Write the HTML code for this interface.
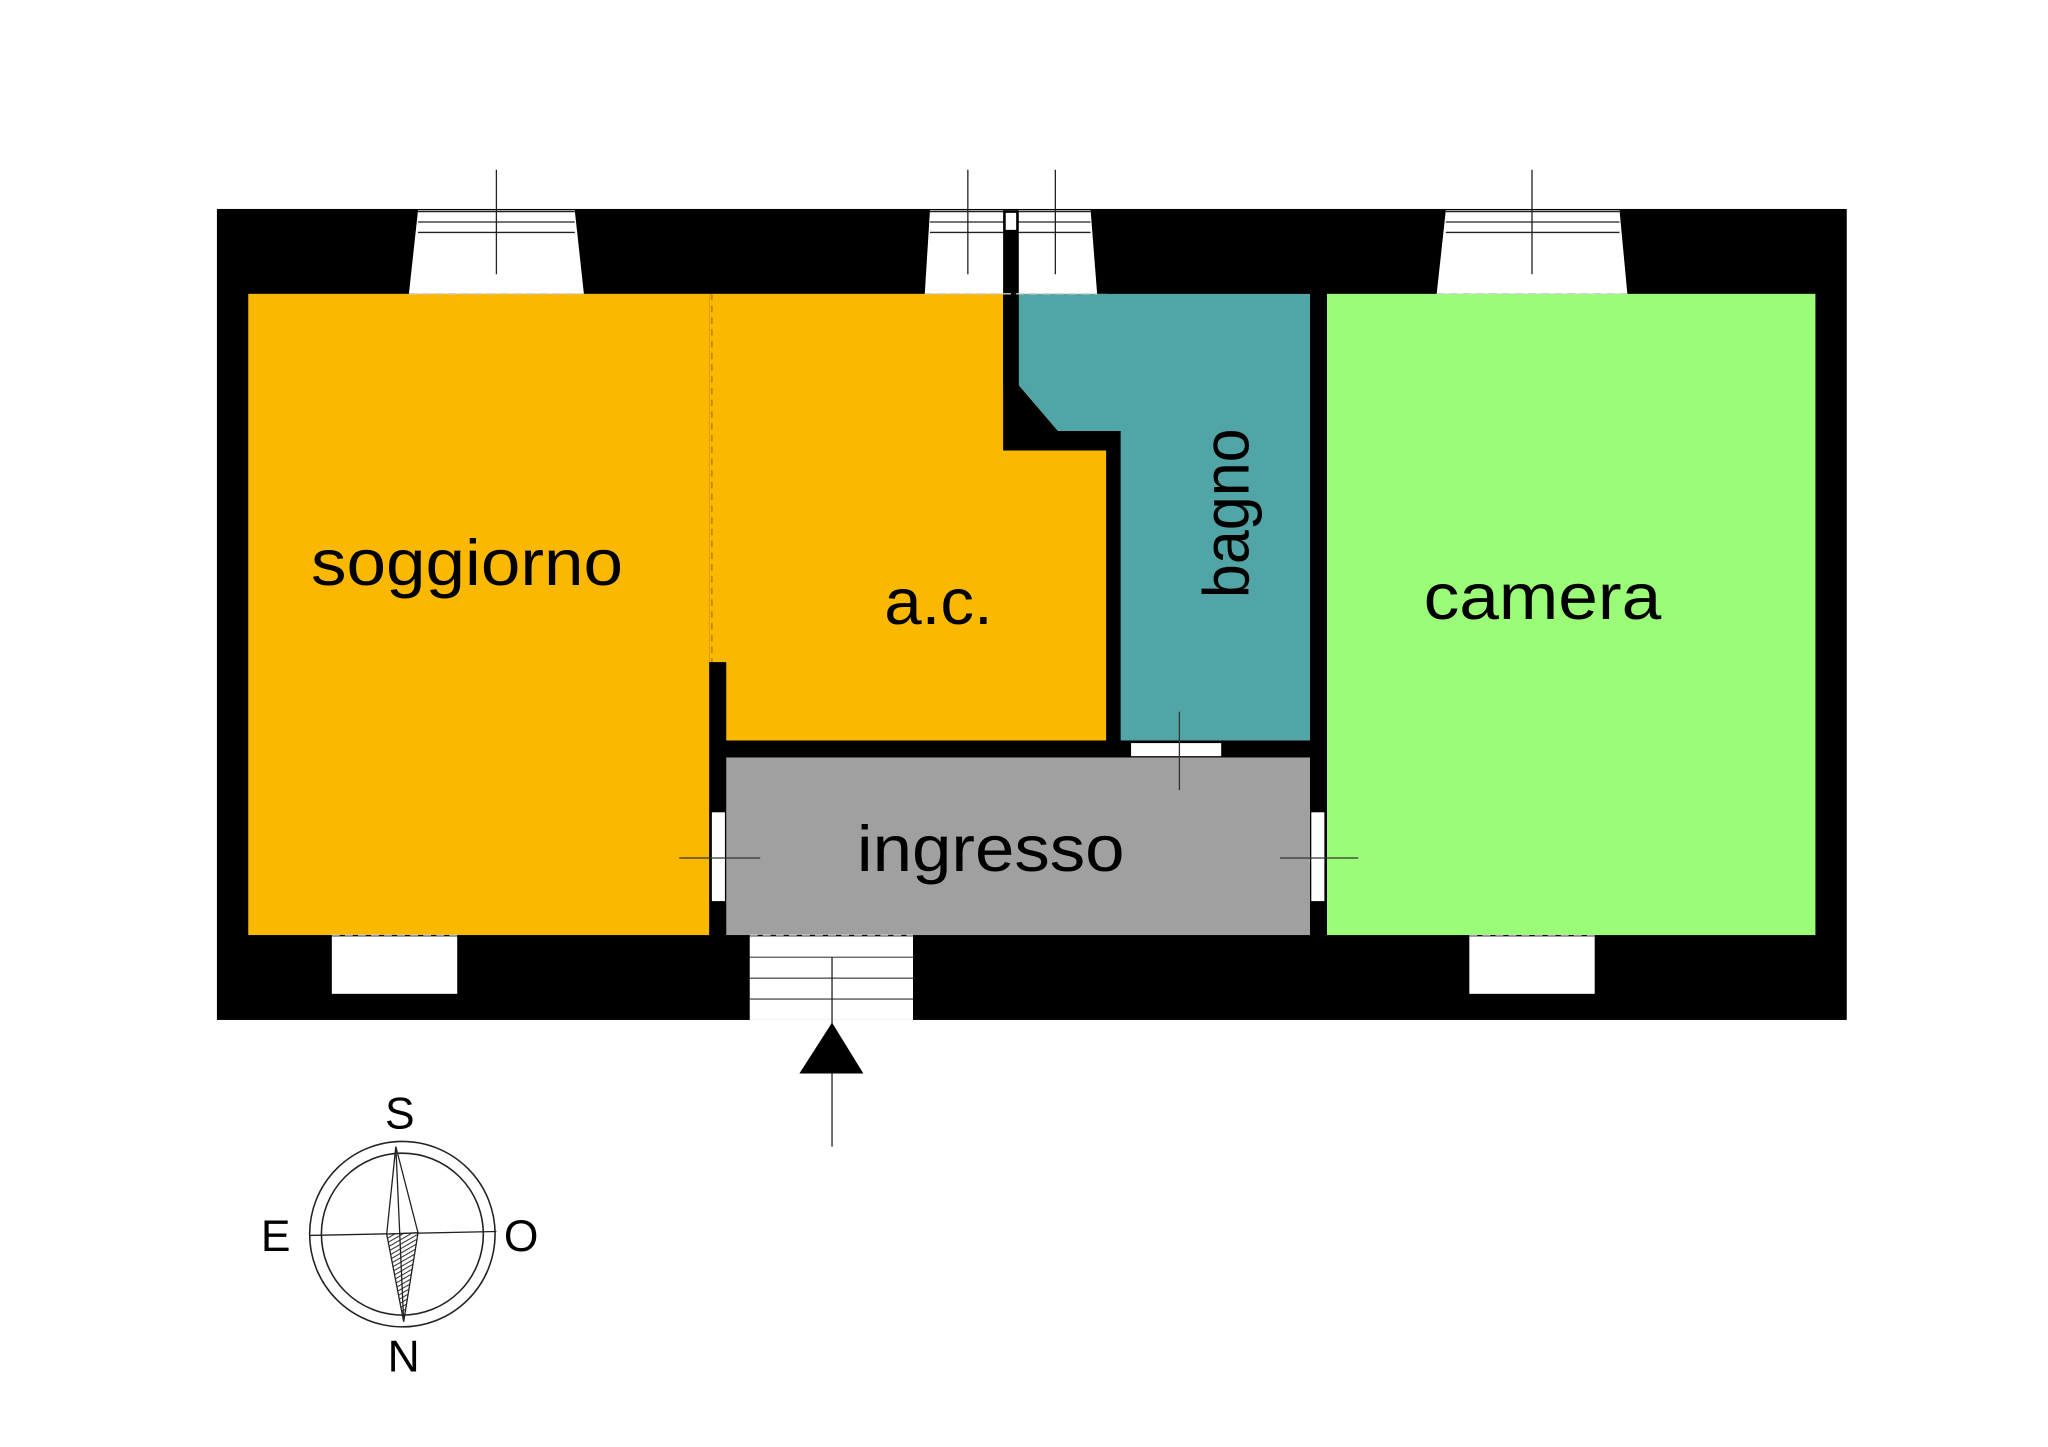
<!DOCTYPE html>
<html><head><style>html,body{margin:0;padding:0;background:#fff}svg{display:block}</style></head><body>
<svg width="2048" height="1447" viewBox="0 0 1568 1108" xmlns="http://www.w3.org/2000/svg" font-family="Liberation Sans, sans-serif">
<defs><pattern id="h" width="3" height="3" patternUnits="userSpaceOnUse" patternTransform="rotate(60)"><rect width="3" height="3" fill="#fff"/><line x1="0" y1="0" x2="0" y2="3" stroke="#333" stroke-width="1.6"/></pattern></defs>
<rect x="0" y="0" width="1568" height="1108" fill="#fff"/>
<rect x="166" y="160" width="1248" height="621" fill="#000"/>
<rect x="190" y="225" width="353" height="491" fill="#FBB800"/>
<rect x="545" y="225" width="302" height="342" fill="#FBB800"/>
<rect x="543" y="225" width="3" height="282" fill="#FBB800"/>
<line x1="545" y1="225" x2="545" y2="507" stroke="#b07a00" stroke-width="1" stroke-dasharray="5,4"/>
<polygon points="768,225 780,225 780,295 810,330 858,330 858,567 847,567 847,345 768,345" fill="#000"/>
<polygon points="780,225 1003,225 1003,567 858,567 858,330 810,330 780,295" fill="#52A5A6"/>
<rect x="543" y="507" width="13" height="209" fill="#000"/>
<rect x="556" y="580" width="447" height="136" fill="#A0A0A0"/>
<rect x="1016" y="225" width="374" height="491" fill="#9BFC78"/>
<rect x="866" y="569" width="69" height="10" fill="#fff"/>
<line x1="903" y1="545" x2="903" y2="605" stroke="#333" stroke-width="1"/>
<rect x="545" y="622" width="10" height="68" fill="#fff"/>
<rect x="1004" y="622" width="10" height="68" fill="#fff"/>
<line x1="520" y1="657" x2="582" y2="657" stroke="#333" stroke-width="1"/>
<line x1="980" y1="657" x2="1040" y2="657" stroke="#333" stroke-width="1"/>
<g fill="#fff" stroke="none">
<polygon points="320,161 440,161 447,225 313,225"/>
<polygon points="712,161 835,161 840,225 708,225"/>
<polygon points="1107,161 1240,161 1246,225 1100,225"/>
</g>
<g stroke="#222" stroke-width="1">
<line x1="320" y1="162" x2="440" y2="162"/><line x1="320" y1="170" x2="440" y2="170"/><line x1="320" y1="178" x2="440" y2="178"/>
<line x1="712" y1="162" x2="835" y2="162"/><line x1="712" y1="170" x2="835" y2="170"/><line x1="712" y1="178" x2="835" y2="178"/>
<line x1="1107" y1="162" x2="1240" y2="162"/><line x1="1107" y1="170" x2="1240" y2="170"/><line x1="1107" y1="178" x2="1240" y2="178"/>
<line x1="380" y1="130" x2="380" y2="210"/><line x1="741" y1="130" x2="741" y2="210"/><line x1="808" y1="130" x2="808" y2="210"/><line x1="1173" y1="130" x2="1173" y2="210"/>
</g>
<rect x="768" y="161" width="12" height="134" fill="#000"/>
<rect x="770" y="163" width="8" height="13" fill="#fff"/>
<g stroke="#ccc" stroke-width="1" stroke-dasharray="6,4">
<line x1="313" y1="225" x2="447" y2="225"/><line x1="708" y1="225" x2="840" y2="225"/><line x1="1100" y1="225" x2="1246" y2="225"/>
<line x1="254" y1="716" x2="350" y2="716"/><line x1="1125" y1="716" x2="1221" y2="716"/><line x1="574" y1="716" x2="699" y2="716"/>
</g>
<rect x="254" y="717" width="96" height="44" fill="#fff"/>
<rect x="1125" y="717" width="96" height="44" fill="#fff"/>
<rect x="574" y="717" width="125" height="64" fill="#fff"/>
<g stroke="#555" stroke-width="1">
<line x1="574" y1="733" x2="699" y2="733"/><line x1="574" y1="749" x2="699" y2="749"/><line x1="574" y1="765" x2="699" y2="765"/>
<line x1="637" y1="733" x2="637" y2="878" stroke="#222"/>
</g>
<polygon points="637,783 612,822 661,822" fill="#000"/>
<g font-size="50" fill="#000">
<text x="238" y="448" textLength="239" lengthAdjust="spacingAndGlyphs">soggiorno</text>
<text x="677" y="478" textLength="83" lengthAdjust="spacingAndGlyphs">a.c.</text>
<text x="1090" y="474" textLength="182" lengthAdjust="spacingAndGlyphs">camera</text>
<text x="656" y="667" textLength="205" lengthAdjust="spacingAndGlyphs">ingresso</text>
<text transform="translate(956,458) rotate(-90)" textLength="130" lengthAdjust="spacingAndGlyphs">bagno</text>
</g>
<circle cx="308" cy="945" r="71" fill="none" stroke="#222" stroke-width="1.2"/>
<circle cx="308" cy="945" r="62" fill="none" stroke="#222" stroke-width="1.2"/>
<line x1="237" y1="946" x2="380" y2="943" stroke="#222" stroke-width="1"/>
<polygon points="303,878 296,945 320,944" fill="#fff" stroke="#222" stroke-width="1"/>
<polygon points="296,945 320,944 309,1012" fill="url(#h)" stroke="#222" stroke-width="1"/>
<line x1="303" y1="878" x2="309" y2="1012" stroke="#222" stroke-width="1"/>
<g font-size="34" fill="#000" text-anchor="middle">
<text x="306" y="864">S</text>
<text x="211" y="958">E</text>
<text x="399" y="958">O</text>
<text x="309" y="1050">N</text>
</g>
</svg>
</body></html>
